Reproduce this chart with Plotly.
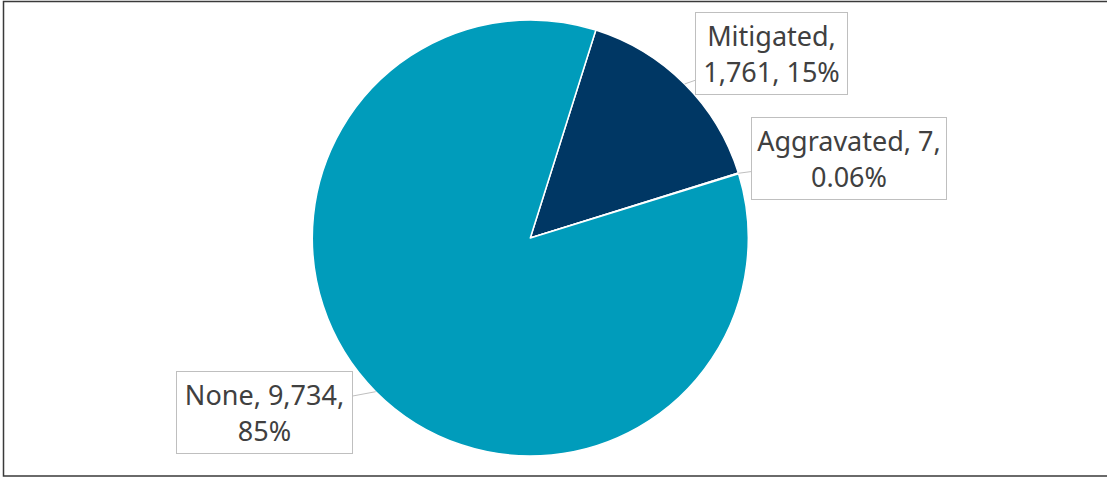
import math
import plotly.graph_objects as go

categories = ["Mitigated", "Aggravated", "None"]
counts = [1761, 7, 9734]
pct_labels = ["15%", "0.06%", "85%"]
colors = ["#003764", "#2E75B6", "#009CBB"]

W, H = 1107, 481
CX, CY, R = 530.3, 238.0, 218.0  # pixel geometry of the pie
ROT = 17.5

dom_x = [(CX - R) / W, (CX + R) / W]
dom_y = [(H - CY - R) / H, (H - CY + R) / H]

fig = go.Figure(go.Pie(
    labels=categories, values=counts, sort=False, direction="clockwise",
    rotation=ROT, marker=dict(colors=colors, line=dict(color="white", width=1.5)),
    textinfo="none", hoverinfo="label+value+percent", showlegend=False,
    domain=dict(x=dom_x, y=dom_y),
))

label_texts = ["Mitigated,<br>1,761, 15%", "Aggravated, 7,<br>0.06%", "None, 9,734,<br>85%"]
box_centers = [(771.5, 53.5), (849.0, 158.5), (264.5, 412.5)]  # pixel centers of label boxes
box_sizes = [(153, 83), (196, 83), (177, 83)]

total = sum(counts)
start = ROT
for i, v in enumerate(counts):
    span = v / total * 360
    mid = math.radians(start + span / 2)
    start += span
    tx = CX + R * math.sin(mid)
    ty = CY - R * math.cos(mid)
    bx, by = box_centers[i]
    bw, bh = box_sizes[i]
    fig.add_annotation(
        x=tx / W, y=1 - ty / H, xref="paper", yref="paper",
        ax=bx - tx, ay=by - ty, axref="pixel", ayref="pixel",
        text=label_texts[i], showarrow=True, arrowhead=0, arrowwidth=1,
        arrowcolor="#BFBFBF", bgcolor="white", bordercolor="#BFBFBF",
        borderwidth=1, borderpad=0, width=bw - 2, height=bh - 2,
        font=dict(family="Noto Sans", size=27, color="#404040"),
        align="center", valign="middle",
    )

fig.add_shape(type="rect", xref="paper", yref="paper",
              x0=3.5 / W, x1=1.02, y0=1 - 476 / H, y1=1 - 1.5 / H,
              line=dict(color="#3A3A3A", width=1.5), layer="above")

fig.update_layout(width=W, height=H, margin=dict(l=0, r=0, t=0, b=0),
                  paper_bgcolor="white", plot_bgcolor="white")
fig.write_html("out.html", config={"displayModeBar": False},
               post_script="document.body.style.margin='0';document.body.style.overflow='hidden';")
